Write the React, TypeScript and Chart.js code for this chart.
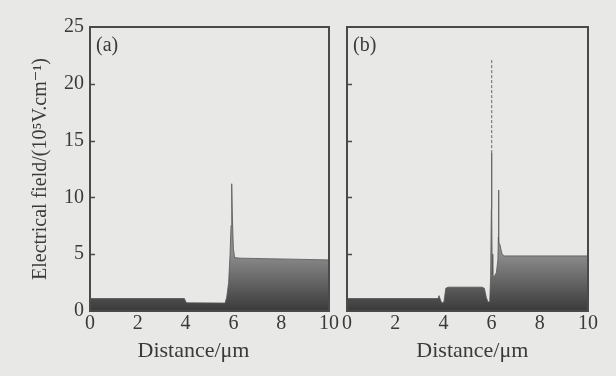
import React, { useEffect, useRef } from "react";
import { Chart, registerables } from "chart.js";
Chart.register(...registerables);

const xTickValues = [0, 2, 4, 6, 8, 10];
const yTickValues = [0, 5, 10, 15, 20, 25];
const xTitle = "Distance/\u03bcm";
const yTitle = "Electrical field/(10\u2075V.cm\u207b\u00b9)";

// Panel (a)
const aX = [0, 3.95, 4.0, 4.05, 5.65, 5.72, 5.8, 5.86, 5.9, 5.93, 5.96, 6.0, 6.05, 6.3, 10];
const aY = [1.1, 1.1, 0.85, 0.72, 0.7, 1.2, 2.5, 5.0, 7.5, 11.2, 8.0, 5.5, 4.7, 4.65, 4.5];

// Panel (b)
const bX = [0, 3.78, 3.82, 3.86, 3.93, 4.02, 4.1, 4.2, 5.6, 5.7, 5.78, 5.85, 5.92, 5.96, 5.99, 6.0, 6.01, 6.02, 6.05, 6.1, 6.2, 6.26, 6.28, 6.29, 6.3, 6.34, 6.42, 6.5, 10];
const bY = [1.1, 1.1, 1.35, 1.1, 0.7, 0.8, 2.0, 2.1, 2.1, 2.0, 1.2, 0.8, 0.8, 3.0, 9.0, 13.9, 9.0, 5.0, 3.2, 3.0, 3.4, 4.5, 6.5, 10.65, 6.0, 5.9, 5.1, 4.85, 4.85];
const bSpikeX = [6.005, 6.005];
const bSpikeY = [13.9, 22.2];

const FONT = "'Liberation Serif', 'DejaVu Serif', serif";
const TEXT = "#3a3a3a";
const BG = "#e8e8e6";

function zip(xs: number[], ys: number[]) {
  return xs.map((x, i) => ({ x, y: ys[i] }));
}

function gradientFill(ctx: any) {
  const chart = ctx.chart;
  const area = chart.chartArea;
  if (!area) return "#666";
  const ys = chart.scales.y;
  const g = chart.ctx.createLinearGradient(0, area.bottom, 0, ys.getPixelForValue(5));
  g.addColorStop(0, "#3a3a3a");
  g.addColorStop(1, "#8c8c8c");
  return g;
}

function makeFramePlugin(label: string, titleFrac: number) {
  return {
    id: "frame" + label.replace(/[()]/g, ""),
    afterDatasetsDraw(chart: any) {
      const { ctx, chartArea } = chart;
      const ys = chart.scales.y;
      ctx.save();
      ctx.strokeStyle = "#4a4a4a";
      ctx.lineWidth = 2;
      ctx.strokeRect(chartArea.left, chartArea.top, chartArea.right - chartArea.left, chartArea.bottom - chartArea.top);
      ctx.lineWidth = 1.5;
      yTickValues.forEach((v) => {
        if (v === 0 || v === 25) return;
        const py = Math.round(ys.getPixelForValue(v)) + 0.5;
        ctx.beginPath();
        ctx.moveTo(chartArea.left, py);
        ctx.lineTo(chartArea.left + 5, py);
        ctx.stroke();
      });
      ctx.fillStyle = TEXT;
      ctx.font = "20px " + FONT;
      ctx.textBaseline = "alphabetic";
      ctx.textAlign = "left";
      ctx.fillText(label, chartArea.left + 6, chartArea.top + 24);
      ctx.font = "22px " + FONT;
      ctx.textAlign = "center";
      ctx.fillText(xTitle, chartArea.left + titleFrac * (chartArea.right - chartArea.left), 357);
      ctx.restore();
    },
  };
}

function buildConfig(xs: number[], ys: number[], showY: boolean, label: string, titleFrac: number, spike?: { x: number[]; y: number[] }) {
  const datasets: any[] = [
    {
      data: zip(xs, ys),
      showLine: true,
      pointRadius: 0,
      borderWidth: 0.8,
      borderColor: "#555",
      backgroundColor: gradientFill,
      fill: "origin",
      tension: 0,
    },
  ];
  if (spike) {
    datasets.push({
      data: zip(spike.x, spike.y),
      showLine: true,
      pointRadius: 0,
      borderWidth: 1,
      borderColor: "#666",
      borderDash: [3, 2],
      fill: false,
    });
  }
  return {
    type: "line" as const,
    data: { datasets },
    options: {
      animation: false,
      responsive: false,
      devicePixelRatio: 1,
      layout: { padding: showY ? { left: 0, right: 9, top: 27, bottom: 0 } : { left: 0, right: 28, top: 27, bottom: 0 } },
      plugins: { legend: { display: false }, tooltip: { enabled: false } },
      scales: {
        x: {
          type: "linear",
          min: 0,
          max: 10,
          afterBuildTicks: (s: any) => { s.ticks = xTickValues.map((v) => ({ value: v })); },
          ticks: { font: { family: FONT, size: 20 }, color: TEXT, padding: 1, maxRotation: 0 },
          grid: { display: false, drawTicks: false },
          border: { display: false },
          afterFit: (s: any) => { s.height = 376 - 311; },
          title: { display: false },
        },
        y: {
          type: "linear",
          min: 0,
          max: 25,
          afterBuildTicks: (s: any) => { s.ticks = yTickValues.map((v) => ({ value: v })); },
          ticks: { display: showY, font: { family: FONT, size: 20 }, color: TEXT, padding: 6 },
          grid: { display: false, drawTicks: false },
          border: { display: false },
          afterFit: (s: any) => { s.width = showY ? 90 : 7; },
          title: { display: showY, text: yTitle, font: { family: FONT, size: 20 }, color: TEXT, padding: { top: 29, bottom: 0 } },
        },
      },
    },
    plugins: [makeFramePlugin(label, titleFrac)],
  };
}

function Panel(props: { left: number; width: number; xs: number[]; ys: number[]; showY: boolean; label: string; titleFrac: number; spike?: { x: number[]; y: number[] } }) {
  const ref = useRef<HTMLCanvasElement>(null);
  useEffect(() => {
    if (!ref.current) return;
    const chart = new Chart(ref.current, buildConfig(props.xs, props.ys, props.showY, props.label, props.titleFrac, props.spike) as any);
    return () => chart.destroy();
  }, []);
  return (
    <div style={{ position: "absolute", left: props.left, top: 0, width: props.width, height: 376 }}>
      <canvas ref={ref} width={props.width} height={376} style={{ width: props.width, height: 376, display: "block" }} />
    </div>
  );
}

export default function App() {
  return (
    <div style={{ position: "fixed", left: 0, top: 0, width: 616, height: 376, background: BG, overflow: "hidden" }}>
      <Panel left={0} width={340} xs={aX} ys={aY} showY={true} label="(a)" titleFrac={0.433} />
      <Panel left={340} width={276} xs={bX} ys={bY} showY={false} label="(b)" titleFrac={0.52} spike={{ x: bSpikeX, y: bSpikeY }} />
    </div>
  );
}
